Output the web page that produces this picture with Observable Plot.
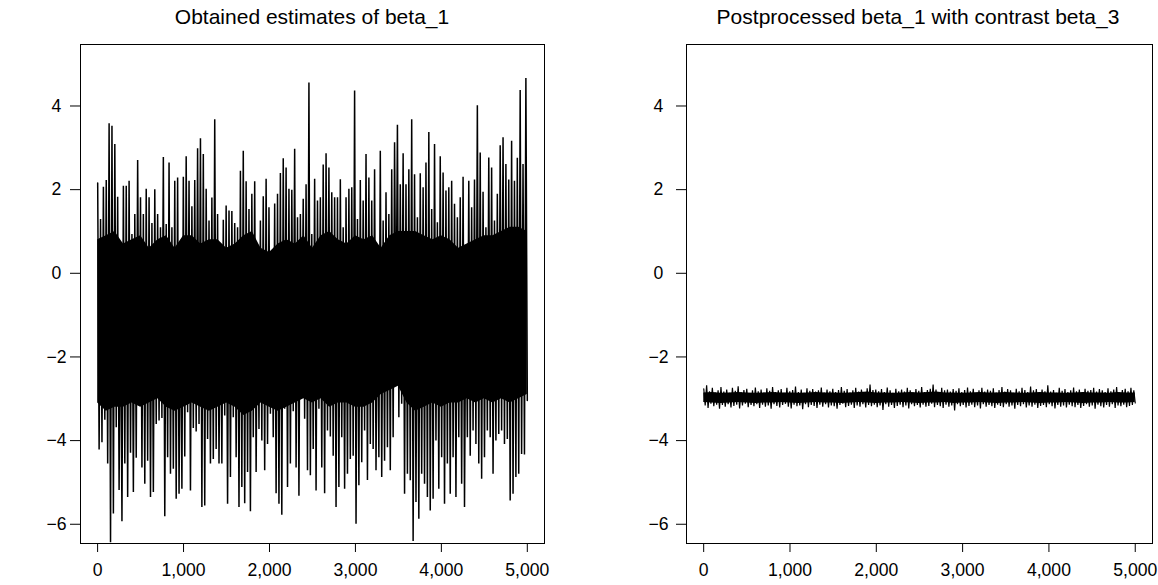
<!DOCTYPE html>
<html><head><meta charset="utf-8">
<script src="https://cdn.jsdelivr.net/npm/d3@7"></script>
<script src="https://cdn.jsdelivr.net/npm/@observablehq/plot@0.6"></script>
<style>
body{margin:0;background:#fff;}
#fig{position:relative;width:1158px;height:585px;overflow:hidden;background:#fff;font-family:"Liberation Sans",Arial,Helvetica,sans-serif;color:#000;}
.title{position:absolute;top:5px;font-size:21px;white-space:nowrap;transform:translateX(-50%);}
.ylab{position:absolute;font-size:17.6px;white-space:nowrap;transform:translate(-50%,-50%) rotate(-90deg);}
.panel{position:absolute;top:30px;}
</style></head><body>
<div id="fig">
  <div class="title" style="left:312px">Obtained estimates of beta_1</div>
  <div class="title" style="left:918px">Postprocessed beta_1 with contrast beta_3</div>
  <div class="ylab" style="left:19px;top:293px">Betadraw[2, ]</div>
  <div class="ylab" style="left:614px;top:293px">Betadraw[2, ] − betadraw[4, ]</div>
  <div class="panel" id="p1" style="left:0px"></div>
  <div class="panel" id="p2" style="left:579px"></div>
</div>
<script>
// draws: 5000 iterations, read as alternating local highs / lows of the trace
const nIter = 5000;
const xTicks = [0, 1000, 2000, 3000, 4000, 5000];
const yTicks = [-6, -4, -2, 0, 2, 4];

const beta1High = [
  2.16, 1.30, 2.07, 2.23, 3.59, 3.53, 3.09, 1.83, 0.10, 2.09,
  2.09, 2.21, 0.94, 1.42, 2.71, 1.82, 1.42, 2.02, 1.82, 1.20,
  2.01, 1.42, 1.10, 2.78, 1.18, 2.65, 1.10, 2.21, 2.29, -0.10,
  2.31, 2.80, 2.21, 1.60, 2.23, 2.99, 3.23, 2.85, 2.02, 1.26,
  1.81, 3.68, 1.42, 0.20, 1.28, 1.62, 1.50, 1.49, 1.20, 1.10,
  2.45, 2.93, 2.20, 1.54, 1.90, 2.20, 0.50, 1.26, 1.84, 2.26,
  1.58, 0.10, 1.67, 1.90, 2.40, 2.75, 2.53, 2.02, 2.00, 2.98,
  1.34, 1.42, 1.78, 2.13, 4.56, 0.94, 2.26, 1.74, 1.82, 2.60,
  2.87, 2.53, 1.94, 1.82, 1.82, 2.25, 1.10, 1.82, 2.02, 2.06,
  4.37, 1.30, 2.23, 1.74, 2.85, 2.29, 1.74, 2.49, 0.10, 2.93,
  1.26, 1.94, 1.42, 2.49, 3.13, 3.55, 2.13, 2.87, 2.13, 2.49,
  3.68, 2.37, 1.34, 2.39, 2.06, 2.65, 3.38, 1.54, 3.09, 1.22,
  2.80, 2.41, 1.98, 2.06, 2.21, 1.66, 1.34, 1.82, 2.31, 0.20,
  2.21, 1.58, 2.24, 4.02, 2.89, 1.95, 1.10, 2.77, 2.53, 1.26,
  1.90, 3.06, 3.25, 2.61, 2.24, 3.17, 2.21, 2.76, 4.38, 2.61,
  4.67
];
const beta1Low = [
  -4.21, -4.04, -3.50, -4.55, -6.43, -5.74, -3.68, -5.18, -5.93, -4.55,
  -5.35, -4.29, -5.23, -4.41, -3.06, -4.64, -5.03, -4.48, -5.35, -5.23,
  -3.60, -3.52, -3.46, -5.81, -4.40, -4.79, -4.67, -5.39, -5.27, -5.15,
  -4.38, -3.32, -5.19, -3.70, -3.78, -3.60, -5.59, -5.55, -3.96, -4.55,
  -4.44, -4.20, -4.55, -4.55, -3.40, -5.51, -4.87, -3.44, -4.40, -5.59,
  -5.11, -5.50, -4.75, -5.69, -3.92, -4.75, -3.72, -4.00, -4.71, -4.08,
  -3.36, -3.92, -5.26, -5.51, -5.77, -3.24, -5.11, -4.55, -3.30, -4.64,
  -5.32, -2.44, -3.48, -4.71, -4.83, -4.20, -5.19, -3.24, -4.64, -5.26,
  -3.76, -3.90, -4.36, -5.59, -5.11, -3.92, -5.15, -4.79, -4.44, -4.36,
  -5.99, -5.07, -4.52, -3.76, -4.94, -4.08, -4.20, -4.71, -4.40, -4.87,
  -4.48, -4.16, -4.71, -3.92, -1.80, -3.44, -3.12, -5.27, -4.79, -4.95,
  -6.40, -5.47, -5.87, -4.79, -5.03, -5.35, -5.67, -5.39, -4.00, -5.15,
  -4.40, -5.51, -4.55, -5.27, -4.40, -5.35, -3.92, -5.03, -5.59, -3.92,
  -4.36, -3.76, -4.08, -4.55, -4.91, -4.40, -3.76, -3.92, -4.79, -4.00,
  -3.84, -3.76, -4.08, -3.96, -5.43, -5.27, -4.87, -4.79, -4.32, -4.33,
  -3.04
];
// edges of the solid (densely overplotted) band, every 100 iterations
const beta1CoreHigh = [
  0.8, 0.9, 1.0, 0.7, 0.8, 0.9, 0.6, 0.8, 0.9, 0.6,
  0.9, 0.9, 0.7, 0.8, 0.8, 0.6, 0.7, 0.9, 1.0, 0.6,
  0.5, 0.7, 0.8, 0.7, 0.9, 0.6, 0.9, 1.0, 0.8, 0.7,
  0.9, 0.8, 0.9, 0.6, 0.9, 1.0, 1.0, 1.0, 0.9, 0.8,
  0.9, 0.8, 0.6, 0.7, 0.8, 0.9, 0.9, 1.0, 1.1, 1.1,
  1.0
];
const beta1CoreLow = [
  -3.1, -3.3, -3.2, -3.2, -3.1, -3.2, -3.1, -3.0, -3.2, -3.3,
  -3.2, -3.1, -3.2, -3.3, -3.2, -3.1, -3.2, -3.4, -3.3, -3.1,
  -3.2, -3.3, -3.2, -3.1, -3.0, -3.1, -3.0, -3.2, -3.1, -3.1,
  -3.2, -3.2, -3.1, -2.9, -2.8, -2.7, -3.1, -3.3, -3.2, -3.1,
  -3.2, -3.1, -3.1, -3.0, -3.1, -3.0, -3.1, -3.0, -3.1, -3.0,
  -2.9
];

const contrastHigh = [
  -2.76, -2.68, -2.82, -2.74, -2.85, -2.80, -2.72, -2.83, -2.78, -2.86,
  -2.74, -2.81, -2.70, -2.84, -2.79, -2.76, -2.87, -2.80, -2.73, -2.82,
  -2.78, -2.85, -2.75, -2.81, -2.72, -2.84, -2.80, -2.77, -2.86, -2.74,
  -2.82, -2.79, -2.71, -2.84, -2.78, -2.86, -2.75, -2.81, -2.77, -2.83,
  -2.80, -2.73, -2.85, -2.78, -2.82, -2.76, -2.84, -2.79, -2.72, -2.81,
  -2.77, -2.85, -2.80, -2.74, -2.83, -2.78, -2.86, -2.75, -2.66, -2.79,
  -2.78, -2.82, -2.77, -2.84, -2.73, -2.80, -2.86, -2.76, -2.82, -2.78,
  -2.83, -2.74, -2.80, -2.85, -2.77, -2.81, -2.72, -2.84, -2.79, -2.76,
  -2.66, -2.78, -2.85, -2.74, -2.80, -2.78, -2.83, -2.77, -2.81, -2.75,
  -2.84, -2.79, -2.73, -2.82, -2.76, -2.86, -2.80, -2.74, -2.83, -2.78,
  -2.81, -2.75, -2.85, -2.79, -2.72, -2.83, -2.77, -2.80, -2.86, -2.76,
  -2.82, -2.74, -2.79, -2.84, -2.71, -2.80, -2.77, -2.85, -2.78, -2.82,
  -2.68, -2.83, -2.79, -2.86, -2.74, -2.81, -2.77, -2.84, -2.80, -2.73,
  -2.82, -2.78, -2.85, -2.76, -2.81, -2.79, -2.74, -2.83, -2.77, -2.80,
  -2.84, -2.75, -2.82, -2.78, -2.72, -2.85, -2.79, -2.76, -2.82, -2.74,
  -2.80
];
const contrastLow = [
  -3.16, -3.22, -3.12, -3.18, -3.14, -3.24, -3.15, -3.19, -3.13, -3.21,
  -3.17, -3.14, -3.23, -3.16, -3.12, -3.20, -3.15, -3.18, -3.13, -3.22,
  -3.14, -3.19, -3.16, -3.24, -3.13, -3.17, -3.21, -3.15, -3.12, -3.19,
  -3.23, -3.14, -3.18, -3.16, -3.25, -3.13, -3.20, -3.15, -3.17, -3.22,
  -3.14, -3.19, -3.13, -3.21, -3.16, -3.18, -3.24, -3.15, -3.12, -3.20,
  -3.17, -3.14, -3.22, -3.16, -3.19, -3.13, -3.21, -3.15, -3.18, -3.14,
  -3.20, -3.16, -3.27, -3.13, -3.19, -3.15, -3.22, -3.17, -3.14, -3.20,
  -3.16, -3.23, -3.13, -3.18, -3.15, -3.21, -3.14, -3.19, -3.17, -3.12,
  -3.20, -3.15, -3.18, -3.22, -3.14, -3.19, -3.16, -3.28, -3.13, -3.18,
  -3.15, -3.21, -3.17, -3.14, -3.20, -3.16, -3.23, -3.13, -3.19, -3.15,
  -3.18, -3.22, -3.14, -3.17, -3.20, -3.13, -3.19, -3.16, -3.24, -3.15,
  -3.18, -3.13, -3.21, -3.16, -3.19, -3.14, -3.22, -3.17, -3.15, -3.20,
  -3.13, -3.18, -3.23, -3.15, -3.19, -3.16, -3.21, -3.14, -3.18, -3.20,
  -3.15, -3.22, -3.17, -3.13, -3.19, -3.16, -3.24, -3.14, -3.18, -3.21,
  -3.15, -3.19, -3.13, -3.22, -3.16, -3.18, -3.14, -3.20, -3.17, -3.15,
  -3.10
];
const contrastCoreHigh = [
  -2.86, -2.85, -2.87, -2.86, -2.85, -2.86, -2.87, -2.86, -2.85, -2.86,
  -2.86, -2.87, -2.86, -2.85, -2.86, -2.86, -2.87, -2.86, -2.85, -2.84,
  -2.86, -2.86, -2.87, -2.86, -2.85, -2.86, -2.85, -2.84, -2.86, -2.86,
  -2.87, -2.86, -2.85, -2.86, -2.86, -2.85, -2.86, -2.87, -2.86, -2.85,
  -2.86, -2.86, -2.87, -2.86, -2.85, -2.86, -2.86, -2.87, -2.85, -2.86,
  -2.86
];
const contrastCoreLow = [
  -3.09, -3.10, -3.11, -3.10, -3.09, -3.10, -3.11, -3.10, -3.10, -3.09,
  -3.10, -3.11, -3.10, -3.09, -3.10, -3.10, -3.11, -3.10, -3.09, -3.10,
  -3.11, -3.10, -3.10, -3.09, -3.10, -3.11, -3.10, -3.10, -3.09, -3.11,
  -3.10, -3.10, -3.09, -3.10, -3.11, -3.10, -3.10, -3.09, -3.10, -3.11,
  -3.10, -3.10, -3.09, -3.10, -3.11, -3.10, -3.10, -3.09, -3.10, -3.10,
  -3.09
];

const fmtY = d => (d < 0 ? "\u2212" + Math.abs(d) : String(d));

function trace(high, low) {
  const vals = [];
  high.forEach((h, k) => { vals.push(h); vals.push(low[k]); });
  const step = (nIter - 1) / (vals.length - 1);
  return vals.map((v, i) => ({iter: 1 + i * step, value: v}));
}
function core(high, low) {
  const step = (nIter - 1) / (high.length - 1);
  return high.map((h, i) => ({iter: 1 + i * step, hi: h, lo: low[i]}));
}

function panel(high, low, coreHigh, coreLow, mLeft, mRight, padY, sw) {
  return Plot.plot({
    width: 579, height: 555,
    marginLeft: mLeft, marginRight: mRight, marginTop: 14, marginBottom: 42,
    style: {fontFamily: "'Liberation Sans', Arial, Helvetica, sans-serif", fontSize: "17.6px", color: "#000", background: "#fff", overflow: "visible"},
    x: {domain: [-199, 5200]},
    y: {domain: [-6.46, 5.47]},
    marks: [
      Plot.areaY(core(coreHigh, coreLow), {x: "iter", y1: "lo", y2: "hi", fill: "#000"}),
      Plot.line(trace(high, low), {x: "iter", y: "value", stroke: "#000", strokeWidth: sw, strokeLinejoin: "miter", strokeMiterlimit: 1}),
      Plot.frame({stroke: "#000", strokeWidth: 1}),
      Plot.axisX({ticks: xTicks, tickFormat: d3.format(","), tickSize: 9, tickPadding: 11, label: null, stroke: "#000", fill: "#000"}),
      Plot.axisY({ticks: yTicks, tickFormat: fmtY, tickSize: 10, tickPadding: padY, textAnchor: "middle", label: null, stroke: "#000", fill: "#000"})
    ]
  });
}

document.getElementById("p1").appendChild(panel(beta1High, beta1Low, beta1CoreHigh, beta1CoreLow, 80, 35, 14, 1.5));
document.getElementById("p2").appendChild(panel(contrastHigh, contrastLow, contrastCoreHigh, contrastCoreLow, 107, 6, 18, 1.2));
</script>
</body></html>
